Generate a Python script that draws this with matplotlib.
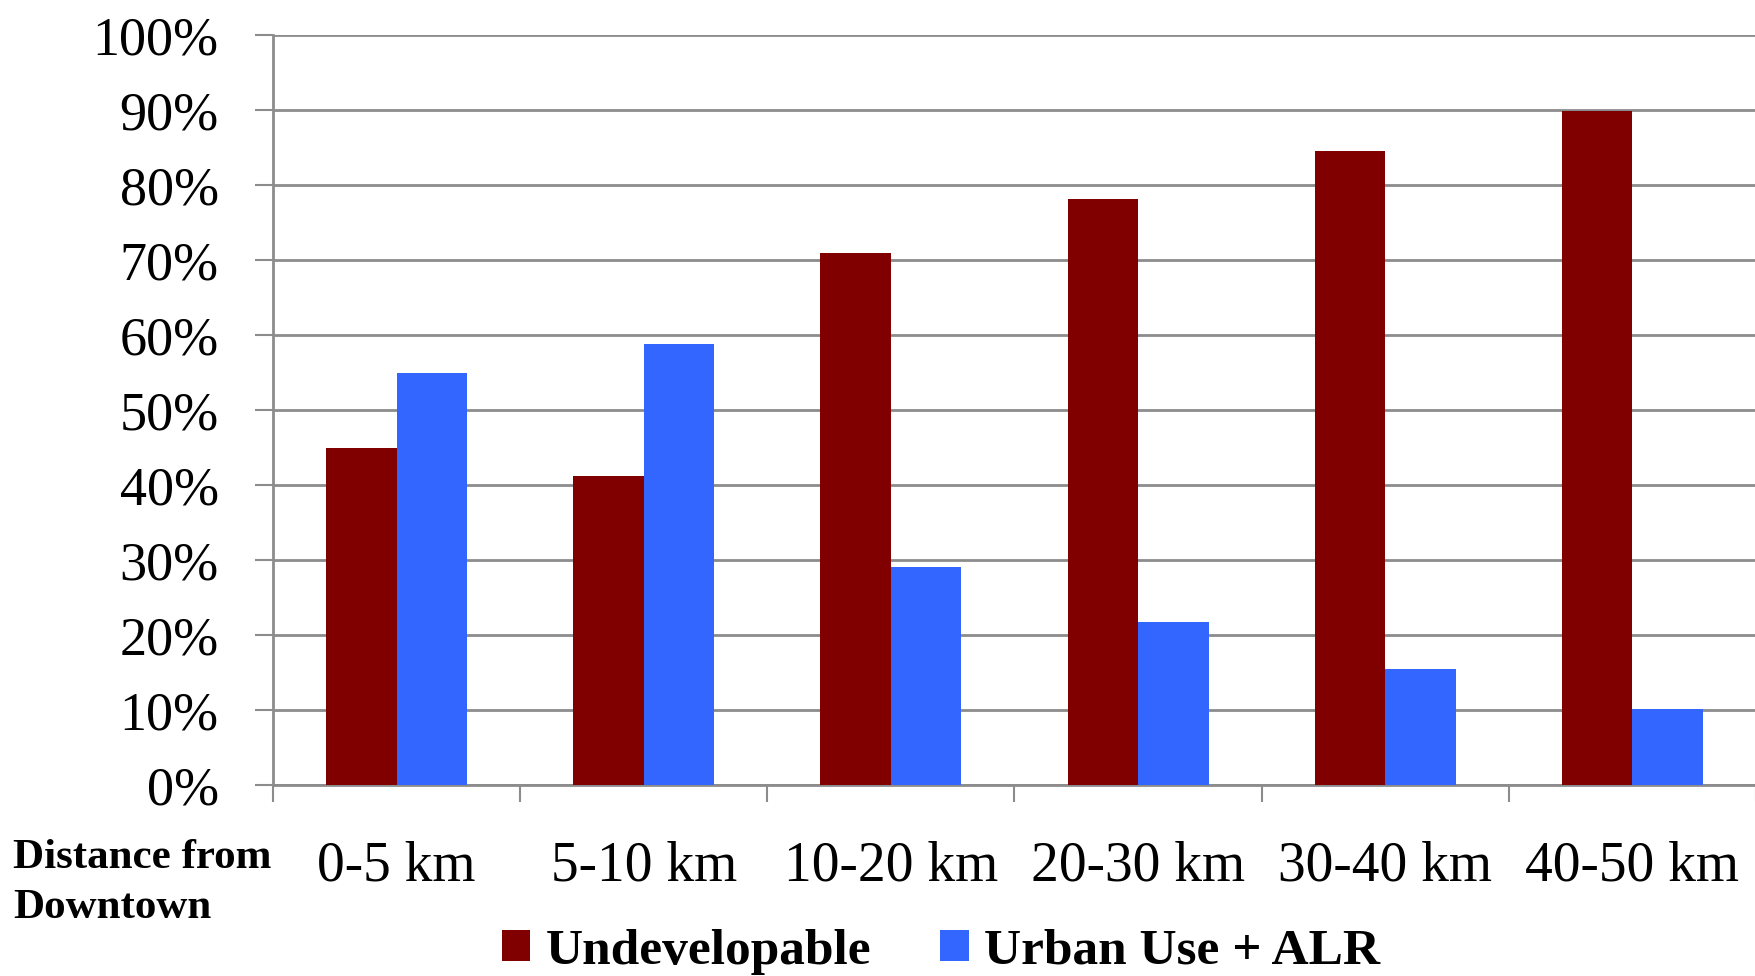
import matplotlib.pyplot as plt
import numpy as np
from matplotlib.ticker import FixedLocator, PercentFormatter

# Share of land by distance band
categories = ["0-5 km", "5-10 km", "10-20 km", "20-30 km", "30-40 km", "40-50 km"]
undevelopable = [45.0, 41.2, 70.9, 78.2, 84.5, 89.9]
urban_alr = [55.0, 58.8, 29.1, 21.8, 15.5, 10.1]
yticks = list(range(0, 101, 10))

red = "#800000"
blue = "#3366ff"
grey = "#8c8c8c"

plt.rcParams["font.family"] = ["Liberation Serif", "DejaVu Serif"]

fig = plt.figure(figsize=(17.56, 9.76), dpi=100)
ax = fig.add_axes([273 / 1756, 1 - 785 / 976, 1 - 273 / 1756, (785 - 35) / 976])

x = np.arange(len(categories))
w = 0.285
ax.bar(x - w / 2, undevelopable, w, color=red, label="Undevelopable", zorder=3)
ax.bar(x + w / 2, urban_alr, w, color=blue, label="Urban Use + ALR", zorder=3)

ax.set_xlim(-0.5, len(categories) - 0.5)
ax.set_ylim(0, 100)

# horizontal grid plus outward ticks on the value axis
ax.set_yticks(yticks)
ax.yaxis.set_major_formatter(PercentFormatter(decimals=0))
ax.grid(axis="y", color=grey, linewidth=2, zorder=0)
ax.tick_params(axis="y", length=13, width=1.5, color=grey, pad=26, labelsize=39)

# category labels at centres, separators between groups
ax.set_xticks(x)
ax.set_xticklabels(categories)
ax.tick_params(axis="x", which="major", length=0, pad=40, labelsize=40)
ax.xaxis.set_minor_locator(FixedLocator(np.arange(-0.5, len(categories), 1.0)))
ax.tick_params(axis="x", which="minor", length=12, width=1.5, color=grey)

for side in ["top", "right"]:
    ax.spines[side].set_visible(False)
ax.spines["left"].set_color(grey)
ax.spines["left"].set_linewidth(2)
ax.spines["bottom"].set_color(grey)
ax.spines["bottom"].set_linewidth(2)

fig.text(13 / 1756, 1 - 868 / 976, "Distance from", fontsize=31,
         fontweight="bold", ha="left", va="baseline")
fig.text(13 / 1756, 1 - 918 / 976, "Downtown", fontsize=31,
         fontweight="bold", ha="left", va="baseline")

leg = fig.legend(loc="center", bbox_to_anchor=(941 / 1756, 1 - 952 / 976), ncol=2,
                 frameon=False, prop={"size": 37, "weight": "bold"},
                 handlelength=0.55, handleheight=0.55, handletextpad=0.3,
                 columnspacing=1.35)

fig.savefig("out.png", dpi=100, facecolor="white")
